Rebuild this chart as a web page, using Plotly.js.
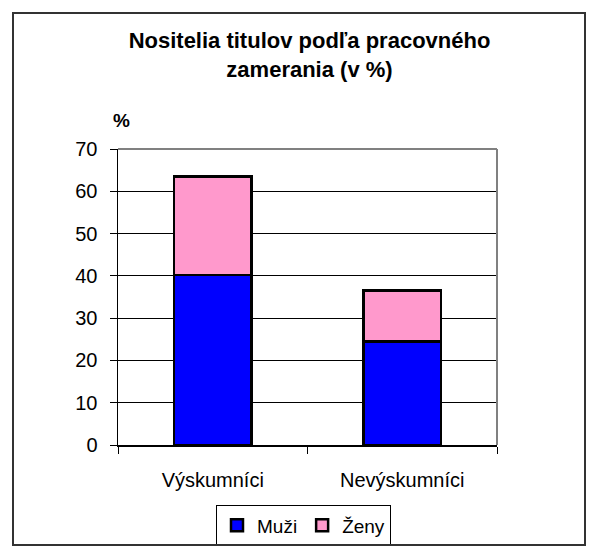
<!DOCTYPE html>
<html>
<head>
<meta charset="utf-8">
<script src="https://cdn.plot.ly/plotly-3.0.1.min.js"></script>
<style>
  html, body { margin: 0; padding: 0; background: #fff; }
  #wrap { position: relative; width: 598px; height: 557px; }
  #chart { width: 598px; height: 557px; }
  #frame { position: absolute; left: 12px; top: 12px; width: 570px; height: 530px;
           border: 2.5px solid #333; pointer-events: none; }
</style>
</head>
<body>
<div id="wrap">
  <div id="chart"></div>
  <div id="frame"></div>
</div>
<script>
const categories = ["Výskumníci", "Nevýskumníci"];
const seriesNames = ["Muži", "Ženy"];
const muzi = [40.2, 24.5];
const zeny = [23.3, 12.0];
const yTicks = [0, 10, 20, 30, 40, 50, 60, 70];

const W = 598, H = 557;
const M = {l: 118, r: 101, t: 149, b: 109};
const pw = W - M.l - M.r, ph = H - M.t - M.b;
const px = x => (x - M.l) / pw;
const py = y => (H - M.b - y) / ph;

const font = "Liberation Sans, Arial, sans-serif";

const traces = [
  {type: "bar", name: seriesNames[0], x: categories, y: muzi,
   marker: {color: "#0000FF", line: {color: "#000000", width: 2.5}}, hoverinfo: "skip"},
  {type: "bar", name: seriesNames[1], x: categories, y: zeny,
   marker: {color: "#FF99CC", line: {color: "#000000", width: 2.5}}, hoverinfo: "skip"}
];

const layout = {
  width: W, height: H,
  margin: M,
  barmode: "stack",
  bargap: 0.59,
  paper_bgcolor: "#ffffff",
  plot_bgcolor: "#ffffff",
  font: {family: font, size: 20, color: "#000"},
  title: {
    text: "Nositelia titulov podľa pracovného<br>zamerania (v %)",
    font: {family: font, size: 22, color: "#000", weight: "bold"},
    xref: "container", x: 309.5 / W, xanchor: "center",
    yref: "container", y: 1 - 48 / H, yanchor: "top"
  },
  xaxis: {
    type: "category",
    showgrid: false,
    showline: true, linecolor: "#000", linewidth: 1.5,
    ticks: "outside", tickson: "boundaries", ticklen: 7, tickcolor: "#000", tickwidth: 1,
    tickfont: {family: font, size: 20, color: "#000"},
    ticklabelstandoff: 16,
    zeroline: false, fixedrange: true
  },
  yaxis: {
    range: [0, 70],
    tickvals: yTicks,
    ticktext: yTicks.map(String),
    showgrid: true, gridcolor: "#000", gridwidth: 1,
    showline: true, linecolor: "#000", linewidth: 1.5,
    ticks: "outside", ticklen: 7, tickcolor: "#000", tickwidth: 1,
    tickfont: {family: font, size: 20, color: "#000"},
    ticklabelstandoff: 8,
    zeroline: false, fixedrange: true
  },
  showlegend: true,
  legend: {
    orientation: "h",
    traceorder: "normal",
    x: px(303.5), xanchor: "center",
    y: py(509), yanchor: "top",
    bordercolor: "#000", borderwidth: 1, bgcolor: "#fff",
    font: {family: font, size: 19, color: "#000"},
    itemwidth: 30, tracegroupgap: 0
  },
  annotations: [
    {text: "%", xref: "paper", yref: "paper", x: px(121), y: py(120),
     xanchor: "center", yanchor: "middle", showarrow: false,
     font: {family: font, size: 19, color: "#000", weight: "bold"}}
  ],
  shapes: [
    {type: "line", xref: "paper", yref: "paper", x0: 0, x1: 1, y0: 1, y1: 1,
     line: {color: "#808080", width: 2}},
    {type: "line", xref: "paper", yref: "paper", x0: 1, x1: 1, y0: 0, y1: 1,
     line: {color: "#808080", width: 2}}
  ]
};

Plotly.newPlot("chart", traces, layout, {displayModeBar: false, staticPlot: true});
</script>
</body>
</html>
